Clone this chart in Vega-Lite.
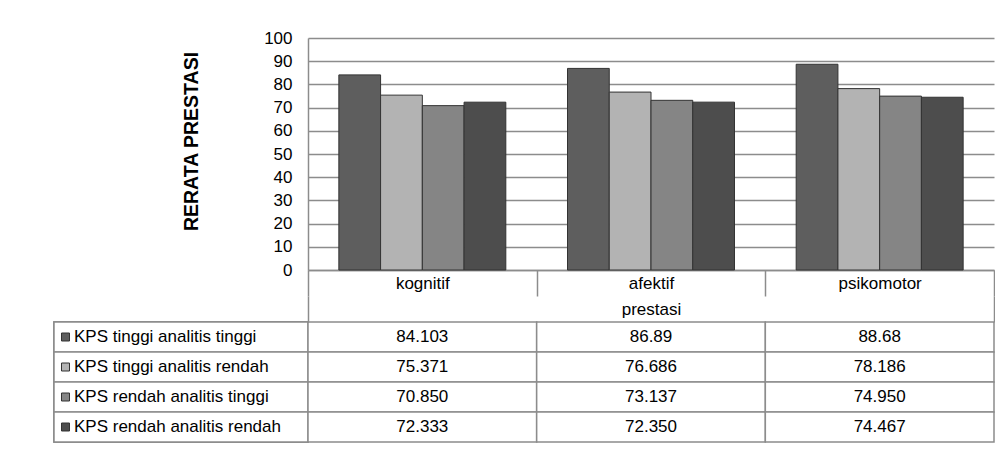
{
  "$schema": "https://vega.github.io/schema/vega-lite/v6.json",
  "autosize": {"type": "pad"},
  "padding": {"left": 53, "top": 29, "right": 0, "bottom": 0},
  "background": "white",
  "config": {
    "font": "Liberation Sans",
    "view": {"stroke": null},
    "axis": {"labelColor": "#000000", "titleColor": "#000000", "labelFont": "Liberation Sans", "titleFont": "Liberation Sans"},
    "text": {"font": "Liberation Sans"}
  },
  "data": {
    "values": [
      {"kategori": "kognitif", "seri": "KPS tinggi analitis tinggi", "nilai": 84.103, "teks": "84.103"},
      {"kategori": "kognitif", "seri": "KPS tinggi analitis rendah", "nilai": 75.371, "teks": "75.371"},
      {"kategori": "kognitif", "seri": "KPS rendah analitis tinggi", "nilai": 70.85, "teks": "70.850"},
      {"kategori": "kognitif", "seri": "KPS rendah analitis rendah", "nilai": 72.333, "teks": "72.333"},
      {"kategori": "afektif", "seri": "KPS tinggi analitis tinggi", "nilai": 86.89, "teks": "86.89"},
      {"kategori": "afektif", "seri": "KPS tinggi analitis rendah", "nilai": 76.686, "teks": "76.686"},
      {"kategori": "afektif", "seri": "KPS rendah analitis tinggi", "nilai": 73.137, "teks": "73.137"},
      {"kategori": "afektif", "seri": "KPS rendah analitis rendah", "nilai": 72.35, "teks": "72.350"},
      {"kategori": "psikomotor", "seri": "KPS tinggi analitis tinggi", "nilai": 88.68, "teks": "88.68"},
      {"kategori": "psikomotor", "seri": "KPS tinggi analitis rendah", "nilai": 78.186, "teks": "78.186"},
      {"kategori": "psikomotor", "seri": "KPS rendah analitis tinggi", "nilai": 74.95, "teks": "74.950"},
      {"kategori": "psikomotor", "seri": "KPS rendah analitis rendah", "nilai": 74.467, "teks": "74.467"}
    ]
  },
  "columns": 2,
  "spacing": {"row": 52, "column": 0},
  "bounds": "flush",
  "concat": [
    {
      "width": 254,
      "height": 232,
      "transform": [{"filter": "false"}],
      "mark": {"type": "text"},
      "encoding": {"text": {"field": "teks"}}
    },
    {
      "width": 686,
      "height": 232,
      "mark": {"type": "bar", "stroke": "#333333", "strokeWidth": 1},
      "encoding": {
        "x": {
          "field": "kategori", "type": "nominal",
          "sort": ["kognitif", "afektif", "psikomotor"],
          "scale": {"paddingInner": 0, "paddingOuter": 0},
          "axis": {
            "title": "prestasi", "labelAngle": 0, "labelFontSize": 17, "titleFontSize": 17, "titleFontWeight": "normal",
            "tickBand": "extent", "tickSize": 26, "tickColor": "#8c8c8c", "tickWidth": 1.5,
            "domainColor": "#8c8c8c", "domainWidth": 1.5, "labelPadding": -21, "titlePadding": 5, "grid": false
          }
        },
        "xOffset": {
          "field": "seri", "type": "nominal",
          "sort": ["KPS tinggi analitis tinggi", "KPS tinggi analitis rendah", "KPS rendah analitis tinggi", "KPS rendah analitis rendah"],
          "scale": {"paddingInner": 0, "paddingOuter": 0.739}
        },
        "y": {
          "field": "nilai", "type": "quantitative",
          "scale": {"domain": [0, 100], "nice": false},
          "axis": {
            "title": "RERATA PRESTASI", "titleFontSize": 19.5, "titleFontWeight": "bold", "titlePadding": 62, "titleY": 103,
            "values": [0, 10, 20, 30, 40, 50, 60, 70, 80, 90, 100],
            "ticks": false, "labelPadding": 16, "labelFontSize": 17,
            "domainColor": "#8c8c8c", "domainWidth": 1.5,
            "grid": true, "gridColor": "#8c8c8c", "gridWidth": 1.5
          }
        },
        "color": {
          "field": "seri", "type": "nominal",
          "sort": ["KPS tinggi analitis tinggi", "KPS tinggi analitis rendah", "KPS rendah analitis tinggi", "KPS rendah analitis rendah"],
          "scale": {"range": ["#5e5e5e", "#b3b3b3", "#858585", "#4d4d4d"]},
          "legend": {
            "title": null, "orient": "none", "legendX": 3, "legendY": 284,
            "direction": "vertical", "symbolType": "square", "symbolSize": 64,
            "symbolStrokeColor": "#333333", "symbolStrokeWidth": 1,
            "clipHeight": 30, "rowPadding": 0, "padding": 0, "offset": 0,
            "labelFontSize": 17, "labelColor": "#000000", "labelOffset": 0, "labelLimit": 400
          }
        }
      }
    },
    {
      "width": 254,
      "height": 120,
      "mark": {"type": "rect", "fill": "#ffffff", "stroke": "#8c8c8c", "strokeWidth": 1.5},
      "encoding": {
        "y": {
          "field": "seri", "type": "nominal",
          "sort": ["KPS tinggi analitis tinggi", "KPS tinggi analitis rendah", "KPS rendah analitis tinggi", "KPS rendah analitis rendah"],
          "scale": {"paddingInner": 0, "paddingOuter": 0},
          "axis": null
        }
      }
    },
    {
      "width": 686,
      "height": 120,
      "encoding": {
        "x": {
          "field": "kategori", "type": "nominal",
          "sort": ["kognitif", "afektif", "psikomotor"],
          "scale": {"paddingInner": 0, "paddingOuter": 0},
          "axis": {
            "orient": "top", "title": null, "labels": false, "domain": false, "grid": false,
            "tickBand": "extent", "tickSize": 26, "tickWidth": 1.5,
            "tickColor": {"condition": {"test": "datum.value != 'kognitif' && datum.value != 'afektif'", "value": "#8c8c8c"}, "value": "transparent"}
          }
        },
        "y": {
          "field": "seri", "type": "nominal",
          "sort": ["KPS tinggi analitis tinggi", "KPS tinggi analitis rendah", "KPS rendah analitis tinggi", "KPS rendah analitis rendah"],
          "scale": {"paddingInner": 0, "paddingOuter": 0},
          "axis": null
        }
      },
      "layer": [
        {"mark": {"type": "rect", "fill": "#ffffff", "stroke": "#8c8c8c", "strokeWidth": 1.5}},
        {"mark": {"type": "text", "fontSize": 17, "color": "#000000"}, "encoding": {"text": {"field": "teks"}}}
      ]
    }
  ]
}
